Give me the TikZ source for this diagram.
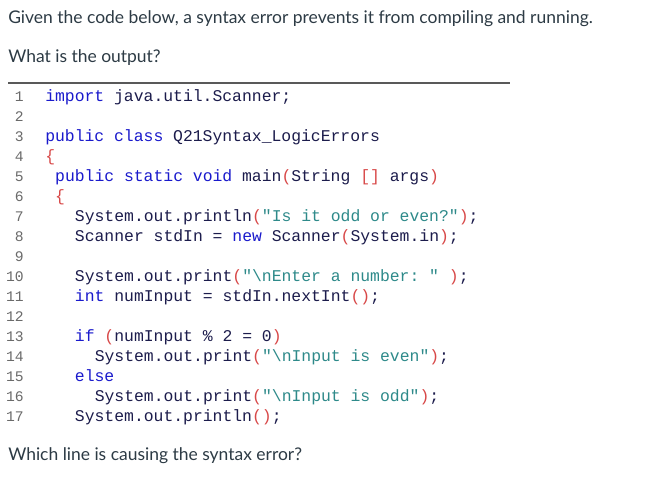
\documentclass[tikz,border=0pt]{standalone}
\usepackage{fontspec}
\setmainfont{Lato}
\setmonofont{Liberation Mono}
\definecolor{idc}{HTML}{1C1C4C}
\definecolor{kwc}{HTML}{1A1ACC}
\definecolor{stc}{HTML}{2E8A8A}
\definecolor{puc}{HTML}{D84848}
\definecolor{lnc}{HTML}{6A6A6A}
\definecolor{txc}{HTML}{2D3B45}
\newcommand{\kw}[1]{\textcolor{kwc}{#1}}
\newcommand{\st}[1]{\textcolor{stc}{#1}}
\newcommand{\pu}[1]{\textcolor{puc}{#1}}
\begin{document}
\begin{tikzpicture}[x=0.75pt,y=-0.75pt,
  txt/.style={anchor=base west,inner sep=0,font=\fontsize{13.1pt}{15pt}\selectfont,text=txc},
  code/.style={anchor=base west,inner sep=0,font=\ttfamily\fontsize{12.3pt}{14pt}\selectfont,text=idc},
  ln/.style={anchor=base east,inner sep=0,font=\ttfamily\fontsize{11pt}{12pt}\selectfont,text=lnc}]
\useasboundingbox[fill=white] (0,0) rectangle (651,481);
\node[txt] (q1) at (8,24) {Given the code below, a syntax error prevents it from compiling and running.};
\node[txt] (q2) at (8,63) {What is the output?};
\draw[draw=black!65,line width=0.8pt] (8,83) -- (510,83);
\foreach \i in {1,...,17} {\node[ln] (n\i) at (24,82+\i*20) {\i};}
\def\cx#1{45+#1*9.9}
\node[code] (c1) at (\cx{0},102) {\kw{import} java.util.Scanner;};
\node[code] (c3) at (\cx{0},142) {\kw{public} \kw{class} Q21Syntax\_LogicErrors};
\node[code] (c4) at (\cx{0},162) {\pu{\{}};
\node[code] (c5) at (\cx{1},182) {\kw{public} \kw{static} \kw{void} main\pu{(}String \pu{[]} args\pu{)}};
\node[code] (c6) at (\cx{1},202) {\pu{\{}};
\node[code] (c7) at (\cx{3},222) {System.out.println\pu{(}\st{"Is it odd or even?"}\pu{)};};
\node[code] (c8) at (\cx{3},242) {Scanner stdIn = \kw{new} Scanner\pu{(}System.in\pu{)};};
\node[code] (c10) at (\cx{3},282) {System.out.print\pu{(}\st{"\textbackslash nEnter a number: "} \pu{)};};
\node[code] (c11) at (\cx{3},302) {\kw{int} numInput = stdIn.nextInt\pu{()};};
\node[code] (c13) at (\cx{3},342) {\kw{if} \pu{(}numInput \% 2 = 0\pu{)}};
\node[code] (c14) at (\cx{5},362) {System.out.print\pu{(}\st{"\textbackslash nInput is even"}\pu{)};};
\node[code] (c15) at (\cx{3},382) {\kw{else}};
\node[code] (c16) at (\cx{5},402) {System.out.print\pu{(}\st{"\textbackslash nInput is odd"}\pu{)};};
\node[code] (c17) at (\cx{3},422) {System.out.println\pu{()};};
\node[txt] (q3) at (8,461) {Which line is causing the syntax error?};
\end{tikzpicture}
\end{document}
